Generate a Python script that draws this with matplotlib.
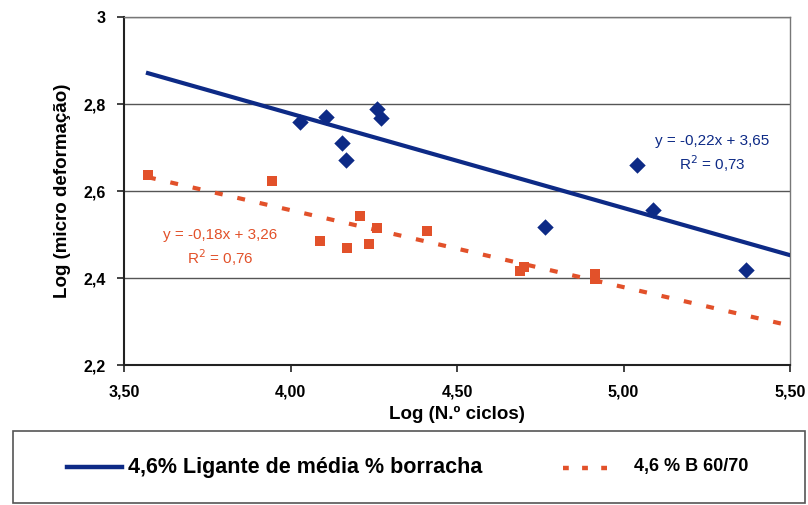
import numpy as np
import matplotlib
matplotlib.use("Agg")
import matplotlib.pyplot as plt
from matplotlib.lines import Line2D
from matplotlib.patches import Rectangle

plt.rcParams['font.family'] = ['Liberation Sans', 'DejaVu Sans']

# Log(N cycles) / Log(micro strain)
blue_x = [4.03, 4.107, 4.155, 4.167, 4.26, 4.272, 4.764, 5.04, 5.089, 5.368]
blue_y = [2.759, 2.770, 2.710, 2.671, 2.789, 2.768, 2.517, 2.660, 2.556, 2.418]
red_x = [3.572, 3.944, 4.089, 4.17, 4.21, 4.236, 4.26, 4.41, 4.69, 4.70, 4.914, 4.914]
red_y = [2.637, 2.623, 2.485, 2.469, 2.543, 2.478, 2.515, 2.508, 2.416, 2.425, 2.409, 2.398]

blue_fit = (-0.217, 3.646)
red_fit = (-0.177, 3.264)
fit_range = (3.572, 5.5)

blue_label = "4,6% Ligante de média % borracha"
red_label = "4,6 % B 60/70"
blue_eq = "y = -0,22x + 3,65\nR$^2$ = 0,73"
red_eq = "y = -0,18x + 3,26\nR$^2$ = 0,76"

xticks = [3.5, 4.0, 4.5, 5.0, 5.5]
yticks = [2.2, 2.4, 2.6, 2.8, 3.0]

blue = '#0d2a86'
red = '#e2512a'

W, H = 808, 505
fig = plt.figure(figsize=(W / 100, H / 100), dpi=100)
ax = fig.add_axes([124 / W, 1 - 365 / H, (790 - 124) / W, (365 - 17) / H])

xx = np.array(fit_range)
ax.plot(xx, blue_fit[0] * xx + blue_fit[1], color=blue, lw=3, zorder=3)
ax.plot(xx, red_fit[0] * xx + red_fit[1], color=red, lw=3,
        dashes=(1.9, 3.6), zorder=3)
ax.scatter(blue_x, blue_y, marker='D', s=70, color=blue, zorder=4, linewidths=0)
ax.scatter(red_x, red_y, marker='s', s=42, color=red, zorder=4, linewidths=0)

ax.text(5.266, 2.685, blue_eq, color=blue, fontsize=11, ha='center',
        va='center', linespacing=1.3)
ax.text(3.788, 2.469, red_eq, color=red, fontsize=11, ha='center',
        va='center', linespacing=1.3)

ax.set_xlim(3.5, 5.5)
ax.set_ylim(2.2, 3.0)
ax.set_xticks(xticks)
ax.set_yticks(yticks)
ax.set_xticklabels([f"{v:.2f}".replace('.', ',') for v in xticks],
                   fontsize=11.5, fontweight='bold')
ax.set_yticklabels([f"{v:g}".replace('.', ',') for v in yticks],
                   fontsize=11.5, fontweight='bold')
ax.tick_params(direction='out', length=5, width=1.2, color='#222222', pad=9)
ax.tick_params(axis='y', pad=8)
ax.grid(axis='y', color='#555555', lw=1)
ax.set_axisbelow(True)
for s in ['top', 'right']:
    ax.spines[s].set_color('#777777')
    ax.spines[s].set_linewidth(1)
for s in ['left', 'bottom']:
    ax.spines[s].set_color('#222222')
    ax.spines[s].set_linewidth(1.5)

ax.set_xlabel("Log (N.º ciclos)", fontsize=13.5, fontweight='bold', labelpad=5)
ax.set_ylabel("Log (micro deformação)", fontsize=13.5, fontweight='bold',
              labelpad=9)

# legend box below
fig.patches.append(Rectangle((13 / W, 1 - 503 / H), (805 - 13) / W, 72 / H,
                             transform=fig.transFigure, fill=False,
                             edgecolor='#555555', lw=1.2))
fig.lines.append(Line2D([67 / W, 122 / W], [1 - 467 / H] * 2,
                        transform=fig.transFigure, color=blue, lw=3.2))
fig.text(128 / W, 1 - 467 / H, blue_label, fontsize=15.5, fontweight='bold',
         va='center')
fig.lines.append(Line2D([563 / W, 616 / W], [1 - 468 / H] * 2,
                        transform=fig.transFigure, color=red, lw=3.2,
                        dashes=(1.3, 3.0)))
fig.text(634 / W, 1 - 467 / H, red_label, fontsize=13, fontweight='bold',
         va='center')

fig.savefig('out.png', dpi=100)
